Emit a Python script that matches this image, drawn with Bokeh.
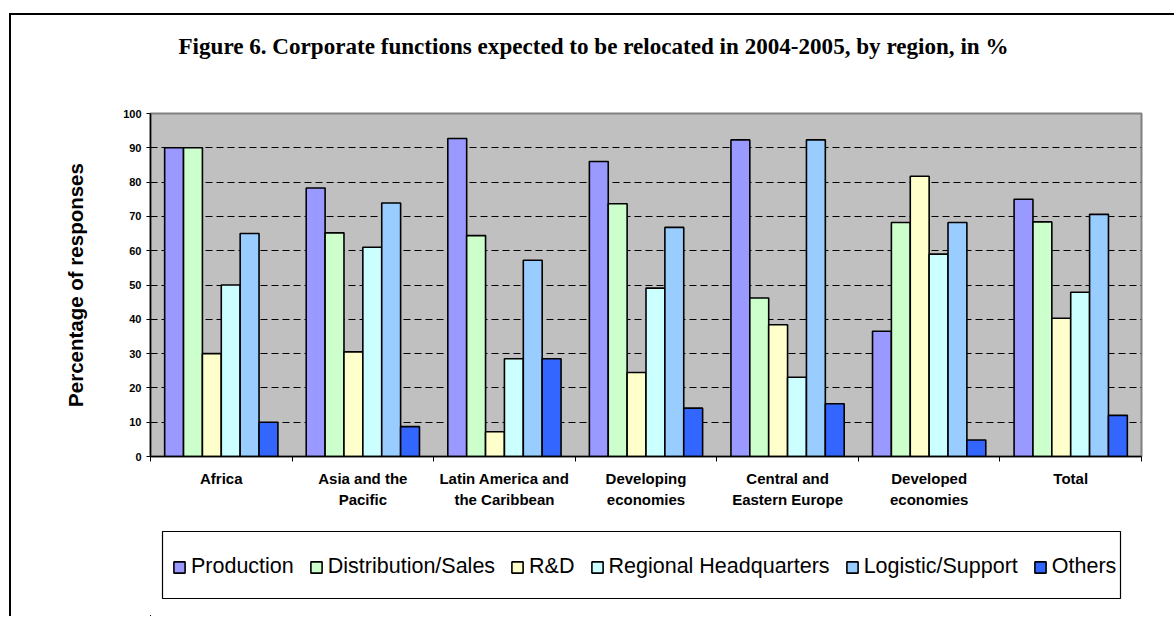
import numpy as np
from bokeh.plotting import figure
from bokeh.layouts import column
from bokeh.models import (Range1d, FixedTicker, CustomJSTickFormatter, Legend, LegendItem,
                          ColumnDataSource, Label, BoxAnnotation)
from bokeh.transform import dodge
from bokeh.embed import file_html
from bokeh.resources import INLINE

regions = ["Africa", "Asia and the\nPacific", "Latin America and\nthe Caribbean",
           "Developing\neconomies", "Central and\nEastern Europe", "Developed\neconomies", "Total"]
functions = ["Production", "Distribution/Sales", "R&D", "Regional Headquarters",
             "Logistic/Support", "Others"]
production = [90, 78.3, 92.7, 86, 92.3, 36.5, 75]
distribution = [90, 65.2, 64.4, 73.7, 46.2, 68.2, 68.4]
rnd = [30, 30.5, 7.2, 24.5, 38.4, 81.7, 40.3]
regional_hq = [50, 61, 28.5, 49.1, 23.1, 59, 47.9]
logistic = [65, 73.9, 57.2, 66.8, 92.3, 68.2, 70.6]
others = [10, 8.7, 28.5, 14.1, 15.4, 4.8, 12]
colors = ["#9999FF", "#CCFFCC", "#FFFFCC", "#CCFFFF", "#99CCFF", "#3366FF"]
y_ticks = [0, 10, 20, 30, 40, 50, 60, 70, 80, 90, 100]
title_text = "Figure 6. Corporate functions expected to be relocated in 2004-2005, by region, in %"

W = 1163
ML, MR = 139, 33          # common left/right borders so all frames line up
FW = W - ML - MR          # frame width in px

# ---------- title strip ----------
tf = figure(width=W, height=60, output_backend="svg", toolbar_location=None,
            x_range=Range1d(0, FW), y_range=Range1d(0, 60),
            x_axis_location=None, y_axis_location=None,
            min_border_left=ML, min_border_right=MR, min_border_top=0, min_border_bottom=0)
tf.outline_line_color = None
tf.grid.visible = False
tf.background_fill_color = "white"
tf.border_fill_color = "white"
tf.add_layout(Label(x=28, y=30, text=title_text, text_align="left", text_baseline="middle",
                    text_font="Liberation Serif", text_font_style="bold",
                    text_font_size="23.1px", text_color="black"))

# ---------- main chart ----------
series = [production, distribution, rnd, regional_hq, logistic, others]
xc = np.arange(len(regions)) + 0.5
src = ColumnDataSource(dict(xc=xc, **{f"s{i}": s for i, s in enumerate(series)}))

p = figure(width=W, height=445, output_backend="svg", toolbar_location=None,
           x_range=Range1d(0, len(regions)), y_range=Range1d(0, 100),
           min_border_left=ML, min_border_right=MR, min_border_top=38, min_border_bottom=64)
p.background_fill_color = "#C0C0C0"
p.border_fill_color = "white"
p.outline_line_color = "#808080"
p.outline_line_width = 2

bw = 0.8 / len(functions)
for j, col in enumerate(colors):
    off = (j - (len(functions) - 1) / 2) * bw
    p.vbar(x=dodge("xc", off, range=p.x_range), top=f"s{j}", width=bw, bottom=0,
           source=src, fill_color=col, line_color="black", line_width=1.6)

xa = p.xaxis[0]
xa.ticker = FixedTicker(ticks=list(xc), minor_ticks=list(range(len(regions) + 1)))
xa.formatter = CustomJSTickFormatter(args=dict(labels=regions), code="return labels[Math.floor(tick)]")
xa.major_tick_line_color = None
xa.minor_tick_line_color = "black"
xa.minor_tick_out = 5
xa.minor_tick_in = 0
xa.axis_line_color = "black"
xa.axis_line_width = 1.5
xa.major_label_text_font = "Liberation Sans"
xa.major_label_text_font_style = "bold"
xa.major_label_text_font_size = "15px"
xa.major_label_text_line_height = 1.25
xa.major_label_standoff = 7
xa.major_label_text_color = "black"

ya = p.yaxis[0]
ya.ticker = FixedTicker(ticks=y_ticks)
ya.minor_tick_line_color = None
ya.major_tick_out = 4
ya.major_tick_in = 0
ya.major_tick_line_color = "black"
ya.axis_line_color = "black"
ya.axis_line_width = 1.5
ya.major_label_text_font = "Liberation Sans"
ya.major_label_text_font_style = "bold"
ya.major_label_text_font_size = "11px"
ya.major_label_text_color = "black"
ya.major_label_standoff = 5
ya.axis_label = "Percentage of responses"
ya.axis_label_text_font = "Liberation Sans"
ya.axis_label_text_font_style = "bold"
ya.axis_label_text_font_size = "20.5px"
ya.axis_label_text_color = "black"
ya.axis_label_standoff = 33

p.xgrid.grid_line_color = None
p.ygrid.ticker = FixedTicker(ticks=y_ticks[1:-1])
p.ygrid.grid_line_color = "black"
p.ygrid.grid_line_dash = "7 4"
p.ygrid.grid_line_width = 1

# ---------- legend strip ----------
LH = 96
lf = figure(width=W, height=LH, output_backend="svg", toolbar_location=None,
            x_range=Range1d(0, FW), y_range=Range1d(0, LH),
            x_axis_location=None, y_axis_location=None,
            min_border_left=ML, min_border_right=MR, min_border_top=0, min_border_bottom=0)
# proxy bars for the legend swatches live on ranges far outside the view
lf.extra_x_ranges = {"far_x": Range1d(1000, 2000)}
lf.extra_y_ranges = {"far_y": Range1d(1000, 2000)}
lf.grid.visible = False
lf.background_fill_color = "white"
lf.border_fill_color = "white"
lf.outline_line_color = None
lf.add_layout(BoxAnnotation(left=12, right=970, bottom=18, top=85, fill_color="white",
                            fill_alpha=1, line_color="black", line_alpha=1, line_width=1.2))
items = []
for j, (name, col) in enumerate(zip(functions, colors)):
    r = lf.vbar(x="xc", top=f"s{j}", width=bw, bottom=0, source=src,
                x_range_name="far_x", y_range_name="far_y",
                fill_color=col, line_color="black", line_width=1.6)
    items.append(LegendItem(label=name, renderers=[r]))
legend = Legend(items=items, orientation="horizontal", location=(22, 37),
                label_text_font="Liberation Sans", label_text_font_size="21.5px",
                label_text_color="black", glyph_width=14, glyph_height=14,
                label_standoff=5, spacing=15, padding=0, margin=0,
                border_line_alpha=0, background_fill_alpha=0)
lf.add_layout(legend)

layout = column(tf, p, lf, spacing=0)
layout.styles = {"margin-left": "9px", "margin-top": "13px",
                 "border-top": "2px solid black", "border-left": "2px solid black"}

open("out.html", "w").write(file_html(layout, INLINE))
